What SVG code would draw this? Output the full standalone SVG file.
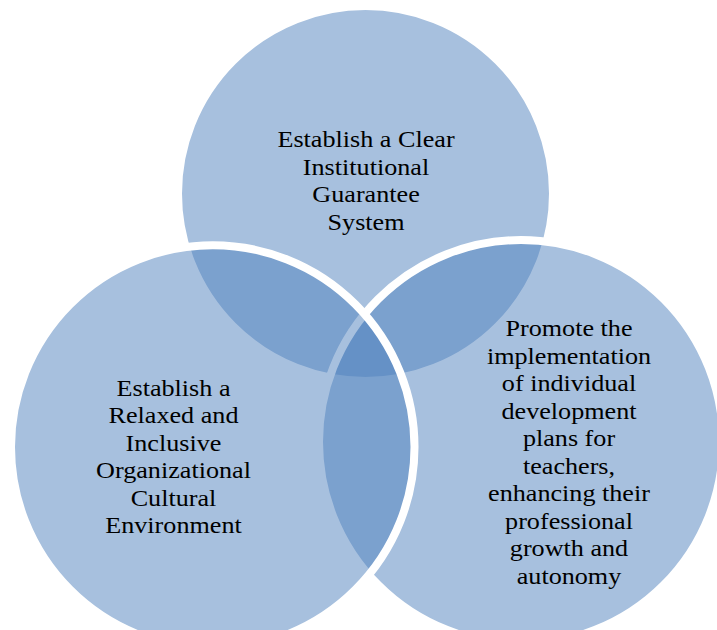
<svg xmlns="http://www.w3.org/2000/svg" width="717" height="630" viewBox="0 0 717 630">
<style>
.c{fill:#4F81BD;fill-opacity:0.5;stroke:#ffffff;stroke-width:8}
.t{font-family:"Liberation Serif","Times New Roman",serif;font-size:24px;fill:#000000;text-anchor:middle}
</style>
<rect width="717" height="630" fill="#ffffff"/>
<g id="node-top">
<circle class="c" cx="365.5" cy="193.5" r="187.5"/>
<g transform="matrix(1.09,0,0,1,-32.9,0)">
<text class="t" x="366" y="147.5">Establish a Clear</text>
<text class="t" x="366" y="175">Institutional</text>
<text class="t" x="366" y="202.5">Guarantee</text>
<text class="t" x="366" y="230">System</text>
</g>
</g>
<g id="node-right">
<circle class="c" cx="521" cy="442" r="202"/>
<g transform="matrix(1.09,0,0,1,-51.2,0)">
<text class="t" x="569" y="336.5">Promote the</text>
<text class="t" x="569" y="364">implementation</text>
<text class="t" x="569" y="391.5">of individual</text>
<text class="t" x="569" y="419">development</text>
<text class="t" x="569" y="446.5">plans for</text>
<text class="t" x="569" y="474">teachers,</text>
<text class="t" x="569" y="501.5">enhancing their</text>
<text class="t" x="569" y="529">professional</text>
<text class="t" x="569" y="556.5">growth and</text>
<text class="t" x="569" y="584">autonomy</text>
</g>
</g>
<g id="node-left">
<circle class="c" cx="212.75" cy="447" r="201.75"/>
<g transform="matrix(1.09,0,0,1,-15.6,0)">
<text class="t" x="173.5" y="396">Establish a</text>
<text class="t" x="173.5" y="423.5">Relaxed and</text>
<text class="t" x="173.5" y="451">Inclusive</text>
<text class="t" x="173.5" y="478.5">Organizational</text>
<text class="t" x="173.5" y="506">Cultural</text>
<text class="t" x="173.5" y="533.5">Environment</text>
</g>
</g>
<g id="connectors"></g>
</svg>
